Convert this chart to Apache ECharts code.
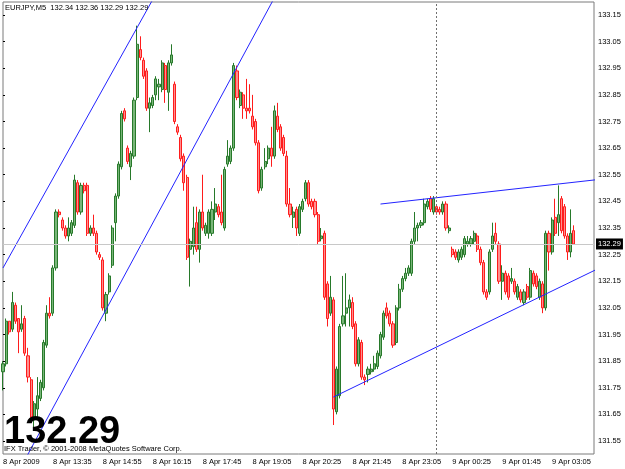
<!DOCTYPE html>
<html><head><meta charset="utf-8">
<script src="https://cdn.jsdelivr.net/npm/echarts@6/dist/echarts.min.js"></script>
<style>html,body{margin:0;padding:0;background:#fff}#c{width:625px;height:469px}</style>
</head><body><div id="c"></div>
<script>
// ---- data (EURJPY M5, one value per bar) ----
const symbolTitle = 'EURJPY,M5';
const headerOHLC = [132.34, 132.36, 132.29, 132.29];
const opens = [131.81,131.84,132.00,131.97,132.06,132.01,131.97,132.01,131.87,131.78,131.63,131.67,131.71,131.75,131.91,132.03,132.03,132.20,132.41,132.38,132.35,132.32,132.33,132.36,132.52,132.41,132.51,132.51,132.33,132.35,132.33,132.25,132.23,132.03,132.11,132.21,132.37,132.47,132.58,132.79,132.65,132.58,132.62,132.84,133.02,132.98,132.94,132.80,132.81,132.85,132.88,132.87,132.96,132.86,132.97,132.89,132.73,132.69,132.62,132.54,132.27,132.28,132.37,132.27,132.41,132.33,132.33,132.33,132.41,132.43,132.41,132.35,132.59,132.60,132.65,132.94,132.81,132.85,132.80,132.80,132.77,132.75,132.67,132.50,132.58,132.61,132.65,132.62,132.77,132.73,132.69,132.62,132.44,132.39,132.42,132.33,132.42,132.46,132.52,132.45,132.45,132.40,132.31,132.33,132.14,132.03,132.08,131.66,131.72,131.99,132.03,132.05,132.07,131.99,131.84,131.92,131.79,131.80,131.81,131.82,131.83,131.87,131.94,132.05,132.03,131.99,131.92,132.05,132.12,132.16,132.18,132.18,132.30,132.35,132.36,132.37,132.43,132.46,132.41,132.43,132.42,132.41,132.44,132.34,132.27,132.26,132.23,132.24,132.25,132.29,132.29,132.30,132.32,132.27,132.22,132.11,132.11,132.27,132.33,132.29,132.15,132.18,132.17,132.15,132.15,132.09,132.11,132.07,132.13,132.09,132.18,132.17,132.09,132.14,132.05,132.33,132.26,132.39,132.37,132.46,132.43,132.32,132.26,132.34];
const closes = [131.84,132.00,131.96,132.07,132.00,131.96,131.99,131.88,131.79,131.64,131.69,131.72,131.77,131.92,132.03,132.02,132.20,132.41,132.40,132.35,132.32,132.35,132.37,132.53,132.41,132.51,132.49,132.33,132.35,132.33,132.26,132.24,132.05,132.10,132.17,132.35,132.47,132.59,132.78,132.76,132.60,132.63,132.83,133.04,132.99,132.92,132.80,132.82,132.84,132.91,132.89,132.97,132.87,132.97,133.00,132.75,132.71,132.61,132.52,132.24,132.30,132.35,132.27,132.41,132.35,132.36,132.41,132.42,132.44,132.40,132.37,132.57,132.62,132.65,132.96,132.84,132.86,132.80,132.79,132.79,132.73,132.67,132.49,132.57,132.60,132.65,132.62,132.79,132.72,132.65,132.63,132.44,132.40,132.41,132.35,132.43,132.45,132.52,132.44,132.43,132.40,132.30,132.32,132.09,132.01,132.09,131.67,131.82,131.98,132.02,132.05,132.08,131.98,131.84,131.93,131.79,131.78,131.82,131.82,131.84,131.88,131.95,132.03,132.02,131.99,131.91,132.05,132.12,132.16,132.18,132.20,132.30,132.35,132.36,132.37,132.44,132.45,132.42,132.46,132.41,132.41,132.44,132.35,132.35,132.25,132.24,132.26,132.27,132.31,132.30,132.31,132.33,132.27,132.22,132.11,132.09,132.26,132.32,132.30,132.15,132.18,132.11,132.09,132.16,132.11,132.13,132.08,132.11,132.09,132.19,132.14,132.13,132.15,132.05,132.33,132.26,132.38,132.33,132.40,132.34,132.32,132.26,132.33,132.29];
const highs = [131.85,132.01,132.00,132.11,132.07,132.01,132.06,132.02,131.90,131.79,131.70,131.79,131.78,131.93,132.06,132.09,132.21,132.42,132.42,132.39,132.36,132.39,132.38,132.55,132.53,132.52,132.52,132.52,132.36,132.40,132.34,132.26,132.24,132.11,132.18,132.36,132.48,132.60,132.79,132.80,132.66,132.64,132.84,133.11,133.07,132.99,132.95,132.84,132.85,132.92,132.91,132.98,132.97,132.98,133.04,132.90,132.74,132.70,132.63,132.55,132.31,132.43,132.43,132.42,132.55,132.37,132.42,132.45,132.50,132.44,132.55,132.58,132.68,132.66,132.97,132.96,132.87,132.86,132.91,132.89,132.85,132.76,132.68,132.58,132.65,132.66,132.73,132.81,132.82,132.74,132.70,132.64,132.50,132.43,132.43,132.44,132.46,132.53,132.53,132.46,132.46,132.41,132.35,132.34,132.15,132.17,132.09,131.83,131.99,132.17,132.18,132.10,132.09,132.00,131.94,131.93,131.80,131.83,131.84,131.87,131.89,131.96,132.04,132.07,132.04,132.00,132.06,132.14,132.17,132.20,132.21,132.31,132.41,132.37,132.38,132.46,132.46,132.47,132.47,132.44,132.43,132.45,132.45,132.36,132.28,132.27,132.27,132.28,132.32,132.32,132.32,132.34,132.33,132.28,132.23,132.12,132.27,132.37,132.37,132.30,132.21,132.19,132.18,132.20,132.16,132.14,132.12,132.12,132.14,132.20,132.19,132.18,132.16,132.15,132.34,132.34,132.39,132.46,132.51,132.47,132.44,132.33,132.42,132.36];
const lows = [131.74,131.83,131.95,131.96,131.99,131.88,131.96,131.87,131.77,131.62,131.60,131.64,131.70,131.74,131.90,132.01,132.02,132.19,132.39,132.34,132.31,132.30,132.32,132.35,132.40,132.40,132.48,132.32,132.32,132.32,132.25,132.23,132.04,132.00,132.10,132.20,132.30,132.46,132.57,132.75,132.59,132.53,132.61,132.83,132.98,132.91,132.79,132.71,132.80,132.83,132.83,132.86,132.82,132.79,132.96,132.74,132.70,132.60,132.49,132.23,132.13,132.25,132.26,132.22,132.34,132.32,132.31,132.32,132.38,132.39,132.36,132.34,132.58,132.59,132.64,132.83,132.80,132.76,132.76,132.78,132.72,132.66,132.48,132.49,132.57,132.59,132.58,132.61,132.71,132.64,132.62,132.43,132.39,132.35,132.32,132.32,132.41,132.45,132.43,132.42,132.39,132.29,132.30,132.08,131.98,132.02,131.61,131.65,131.71,131.98,131.98,131.98,131.97,131.83,131.83,131.78,131.76,131.77,131.80,131.81,131.82,131.86,131.93,132.01,131.98,131.90,131.91,132.04,132.11,132.15,132.17,132.17,132.29,132.30,132.35,132.36,132.42,132.41,132.40,132.40,132.40,132.40,132.34,132.33,132.24,132.23,132.22,132.23,132.24,132.28,132.28,132.29,132.26,132.21,132.10,132.08,132.10,132.26,132.29,132.14,132.08,132.10,132.08,132.14,132.10,132.08,132.07,132.06,132.08,132.08,132.13,132.12,132.08,132.03,132.04,132.19,132.25,132.32,132.32,132.33,132.31,132.23,132.24,132.29];
const timeLabels = ['8 Apr 2009','8 Apr 13:35','8 Apr 14:55','8 Apr 16:15','8 Apr 17:45','8 Apr 19:05','8 Apr 20:25','8 Apr 21:45','8 Apr 23:05','9 Apr 00:25','9 Apr 01:45','9 Apr 03:05'];
const timeLabelBars = [0,16,32,48,64,80,96,112,128,144,160,176];
const priceTicks = [131.55,131.65,131.75,131.85,131.95,132.05,132.15,132.25,132.35,132.45,132.55,132.65,132.75,132.85,132.95,133.05,133.15];
const currentPrice = 132.29;
const daySeparatorBar = 139;
// trend lines: [barIndex, price] anchor pairs
const channelLineA = [[0,132.20],[50,133.25]];
const channelLineB = [[6,131.457],[90,133.28]];
const resistanceLine = [[121,132.44],[190,132.531]];
const supportLine = [[105.9,131.715],[190,132.193]];
const copyrightText = 'IFX Trader, \u00a9 2001-2008 MetaQuotes Software Corp.';

// ---- chart ----
const FONT = "'Liberation Sans', Arial, sans-serif";
const chart = echarts.init(document.getElementById('c'), null, {renderer: 'canvas'});
const candleData = opens.map((o, i) => [i, o, closes[i], lows[i], highs[i]]);
const trend = (d) => ({
  type: 'line', data: d, symbol: 'none', showSymbol: false, silent: true, clip: true, z: 4,
  lineStyle: {color: '#2323ff', width: 1}, animation: false
});
chart.setOption({
  animation: false,
  backgroundColor: '#ffffff',
  grid: {left: 2, right: 31, top: 2, bottom: 15, show: true, borderColor: '#7a7a7a', borderWidth: 1, backgroundColor: '#ffffff'},
  xAxis: {
    type: 'value', min: 0, max: 189.44,
    axisLine: {show: false}, splitLine: {show: false},
    axisTick: {show: false},
    axisLabel: {
      customValues: timeLabelBars, align: 'left', margin: 4,
      fontSize: 7.5, fontFamily: FONT, color: '#000',
      formatter: (v) => timeLabels[timeLabelBars.indexOf(Math.round(v))] || ''
    }
  },
  yAxis: {
    type: 'value', position: 'right', min: 131.5012, max: 133.1988,
    axisLine: {show: false}, splitLine: {show: false},
    axisTick: {show: true, customValues: priceTicks, length: 2, lineStyle: {color: '#000'}},
    axisLabel: {customValues: priceTicks, margin: 4, fontSize: 7.5, fontFamily: FONT, color: '#000',
      formatter: (v) => v.toFixed(2)}
  },
  series: [
    {
      type: 'line', data: [], silent: true, z: 1,
      markLine: {
        silent: true, symbol: ['none', 'none'], animation: false,
        data: [
          {yAxis: currentPrice, lineStyle: {color: '#c8c8c8', type: 'solid', width: 1},
           label: {show: true, position: 'end', distance: 2, formatter: currentPrice.toFixed(2),
             backgroundColor: '#000', color: '#fff', padding: [2, 2, 1, 2], fontSize: 7.5, fontFamily: FONT}},
          {xAxis: daySeparatorBar, lineStyle: {color: '#707070', type: [2, 2], width: 1}, label: {show: false}}
        ]
      }
    },
    {
      type: 'candlestick', data: candleData, z: 2, barWidth: 2.6,
      encode: {x: 0, y: [1, 2, 3, 4]},
      itemStyle: {color: '#79b679', color0: '#ff8e8e', borderColor: '#27792a', borderColor0: '#ff1c1c', borderWidth: 1}
    },
    trend(channelLineA), trend(channelLineB), trend(resistanceLine), trend(supportLine)
  ],
  graphic: [
    {type: 'text', z: 100, style: {x: 5, y: 8, text: symbolTitle + '  ' + headerOHLC.map(v => v.toFixed(2)).join(' '),
      font: '7.5px ' + FONT, fill: '#000', verticalAlign: 'middle'}},
    {type: 'text', z: 100, style: {x: 4, y: 433, text: currentPrice.toFixed(2),
      font: 'bold 38px ' + FONT, fill: '#000', verticalAlign: 'middle'}},
    {type: 'text', z: 101, style: {x: 4, y: 449, text: copyrightText,
      font: '7.5px ' + FONT, fill: '#000', verticalAlign: 'middle'}}
  ]
});
</script></body></html>
